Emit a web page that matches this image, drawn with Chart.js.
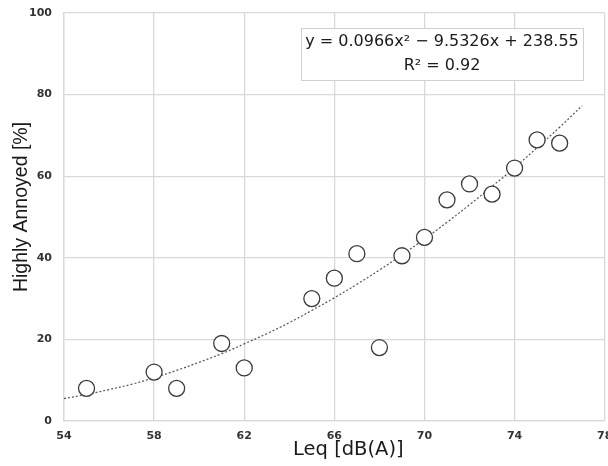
<!DOCTYPE html>
<html>
<head>
<meta charset="utf-8">
<script src="https://cdn.jsdelivr.net/npm/chart.js@4/dist/chart.umd.min.js"></script>
<style>
  html, body { margin: 0; padding: 0; background: #fff; overflow: hidden; }
  .chart-wrapper { width: 614px; height: 466px; }
</style>
</head>
<body>
<div class="chart-wrapper"><canvas id="annoyanceChart"></canvas></div>
<script>
// observed points
const leqValues = [55, 58, 59, 61, 62, 65, 66, 67, 68, 69, 70, 71, 72, 73, 74, 75, 76];
const annoyedValues = [8, 12, 8, 19, 13, 30, 35, 41, 18, 40.5, 45, 54.2, 58.1, 55.6, 62, 68.9, 68.1];

// fitted curve
const trendLeq = [54, 55, 56, 57, 58, 59, 60, 61, 62, 63, 64, 65, 66, 67, 68, 69, 70, 71, 72, 73, 74, 75, 76, 77];
const trendAnnoyed = [5.5, 6.5, 7.7, 9.0, 10.6, 12.4, 14.4, 16.5, 18.9, 21.4, 24.1, 27.1, 30.2, 33.5, 37.0, 40.7, 44.6, 48.7, 53.0, 57.5, 62.1, 67.0, 72.0, 77.3];

const xTicks = [54, 58, 62, 66, 70, 74, 78];
const yTicks = [0, 20, 40, 60, 80, 100];
const xTitle = 'Leq [dB(A)]';
const yTitle = 'Highly Annoyed [%]';
const equationLines = ['y = 0.0966x\u00b2 \u2212 9.5326x + 238.55', 'R\u00b2 = 0.92'];

const fontFamily = "'DejaVu Sans', Verdana, sans-serif";
const gridColor = '#d9d9d9';
const textColor = '#1a1a1a';

// axis titles sit a little off-centre in the original, so draw them by hand
const axisTitles = {
    id: 'axisTitles',
    afterDraw(chart) {
        const { ctx, chartArea } = chart;
        ctx.save();
        ctx.fillStyle = textColor;
        ctx.textAlign = 'center';
        ctx.textBaseline = 'middle';
        ctx.font = '19.5px ' + fontFamily;
        ctx.fillText(xTitle, (chartArea.left + chartArea.right) / 2 + 14, chartArea.bottom + 29);
        ctx.translate(22, (chartArea.top + chartArea.bottom) / 2 - 10);
        ctx.rotate(-Math.PI / 2);
        ctx.font = "19.5px 'Liberation Sans', Arial, sans-serif";
        ctx.fillText(yTitle, 0, 0);
        ctx.restore();
    }
};

const equationBox = {
    id: 'equationBox',
    afterDatasetsDraw(chart) {
        const { ctx, chartArea } = chart;
        const left = chartArea.left + 237, top = chartArea.top + 15;
        const w = 282, h = 52;
        ctx.save();
        ctx.fillStyle = '#fff';
        ctx.strokeStyle = '#cfcfcf';
        ctx.lineWidth = 1;
        ctx.fillRect(left, top, w, h);
        ctx.strokeRect(left + 0.5, top + 0.5, w, h);
        ctx.fillStyle = textColor;
        ctx.font = '16px ' + fontFamily;
        ctx.textAlign = 'center';
        ctx.textBaseline = 'middle';
        ctx.fillText(equationLines[0], left + w / 2, top + 14);
        ctx.fillText(equationLines[1], left + w / 2, top + 38);
        ctx.restore();
    }
};

const ctx = document.getElementById('annoyanceChart').getContext('2d');
new Chart(ctx, {
    type: 'scatter',
    data: {
        datasets: [
            {
                label: 'Trend',
                data: trendLeq.map((x, i) => ({ x, y: trendAnnoyed[i] })),
                showLine: true,
                borderColor: '#555',
                borderWidth: 1.2,
                borderDash: [2, 2],
                pointRadius: 0,
                tension: 0.4,
                order: 2
            },
            {
                label: 'Highly Annoyed',
                data: leqValues.map((x, i) => ({ x, y: annoyedValues[i] })),
                backgroundColor: '#fff',
                borderColor: '#3a3a3a',
                borderWidth: 1.3,
                pointRadius: 8,
                order: 1
            }
        ]
    },
    options: {
        responsive: true, maintainAspectRatio: false, animation: false,
        layout: { padding: { top: 13, right: 0, left: 0, bottom: 0 } },
        plugins: { legend: { display: false }, tooltip: { enabled: false } },
        scales: {
            x: {
                type: 'linear', min: 54, max: 78,
                afterBuildTicks: s => { s.ticks = xTicks.map(v => ({ value: v })); },
                afterFit: s => { s.height = 45; s.paddingLeft = 0; s.paddingRight = 0; },
                grid: { color: gridColor, lineWidth: 1.3, drawTicks: false },
                border: { color: gridColor, width: 1.3 },
                ticks: { color: '#333', padding: 9, font: { family: fontFamily, size: 11, weight: 'bold' } },
                title: { display: false }
            },
            y: {
                type: 'linear', min: 0, max: 100,
                afterBuildTicks: s => { s.ticks = yTicks.map(v => ({ value: v })); },
                afterFit: s => { s.width = 64; s.paddingTop = 0; s.paddingBottom = 0; },
                grid: { color: gridColor, lineWidth: 1.3, drawTicks: false },
                border: { color: gridColor, width: 1.3 },
                ticks: { color: '#333', padding: 12, font: { family: fontFamily, size: 11, weight: 'bold' } },
                title: { display: false }
            }
        }
    },
    plugins: [equationBox, axisTitles]
});
</script>
</body>
</html>
